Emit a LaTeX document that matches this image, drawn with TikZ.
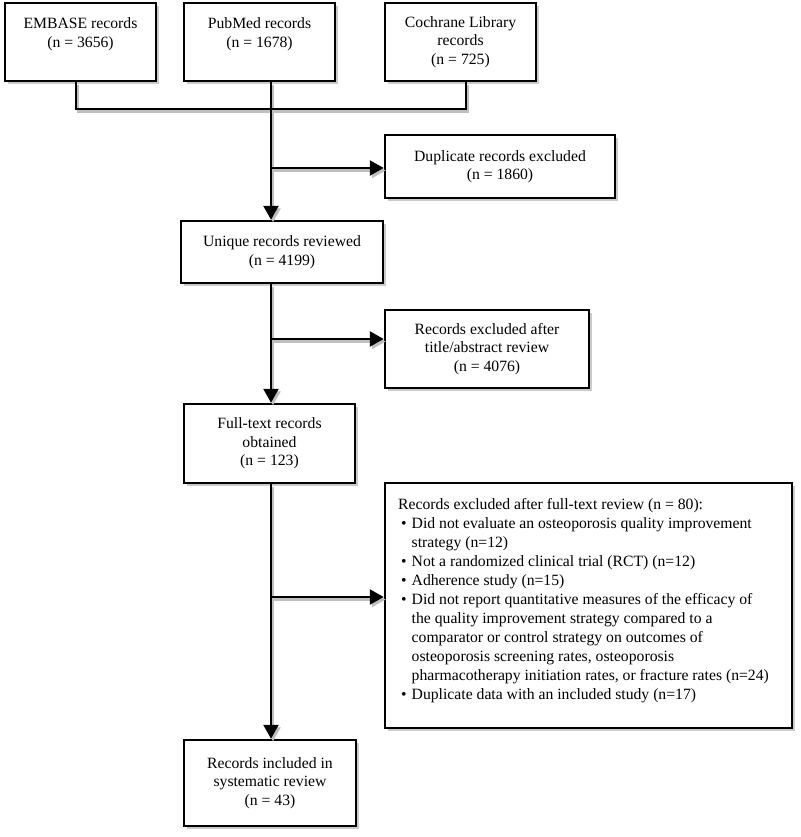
\documentclass[tikz,border=0pt]{standalone}
\usepackage{fontspec}
\setmainfont{Liberation Serif}
\usetikzlibrary{arrows.meta,shadows}
\tikzset{
  box/.style={draw=black, line width=2.5pt, fill=white, align=center, inner sep=0pt,
    drop shadow={shadow xshift=2.5pt,shadow yshift=-3pt,fill=black!40,opacity=0.5},
    font=\fontsize{15.7}{18.5}\selectfont},
  conn/.style={line width=2.3pt, draw=black},
  arr/.style={conn,-{Triangle[length=14pt,width=15pt]}},
  cshadow/.style={line width=2.8pt, draw=black!25, transform canvas={shift={(2pt,-2.5pt)}}},
  ashadow/.style={cshadow,-{Triangle[length=14pt,width=15pt]}, black!25},
  txt/.style={inner sep=0pt, font=\fontsize{15.7}{19}\selectfont, anchor=north west},
}
\begin{document}
\begin{tikzpicture}[x=1pt,y=-1pt]
\useasboundingbox (0,0) rectangle (800,837);
\fill[white] (0,0) rectangle (800,837);

% boxes
\node[box, minimum width=151pt, minimum height=78pt] (embase) at (80.5,42) {EMBASE records\\(n = 3656)\\\mbox{}};
\node[box, minimum width=151pt, minimum height=78pt] (pubmed) at (259.5,42) {PubMed records\\(n = 1678)\\\mbox{}};
\node[box, minimum width=151pt, minimum height=78pt] (cochrane) at (460.5,42) {Cochrane Library\\records\\(n = 725)};
\node[box, minimum width=230pt, minimum height=63pt] (dup) at (500,166.5) {Duplicate records excluded\\(n = 1860)};
\node[box, minimum width=202pt, minimum height=62pt] (unique) at (282,252) {Unique records reviewed\\(n = 4199)};
\node[box, minimum width=204pt, minimum height=78pt] (rex) at (487,349) {Records excluded after\\title/abstract review\\(n = 4076)};
\node[box, minimum width=171pt, minimum height=79pt] (full) at (269.5,443.5) {Full-text records\\obtained\\(n = 123)};
\node[box, minimum width=407pt, minimum height=245pt] (big) at (588.5,605.5) {};
\node[txt] (bigtext) at (398,496) {%
\begin{tabular}{@{\hspace{3pt}}c@{\hspace{5pt}}l@{}}
\multicolumn{2}{@{}l@{}}{Records excluded after full-text review (n = 80):}\\
•& Did not evaluate an osteoporosis quality improvement\\
 & strategy (n=12)\\
•& Not a randomized clinical trial (RCT) (n=12)\\
•& Adherence study (n=15)\\
•& Did not report quantitative measures of the efficacy of\\
 & the quality improvement strategy compared to a\\
 & comparator or control strategy on outcomes of\\
 & osteoporosis screening rates, osteoporosis\\
 & pharmacotherapy initiation rates, or fracture rates (n=24)\\
•& Duplicate data with an included study (n=17)
\end{tabular}};
\node[box, minimum width=172pt, minimum height=86pt] (final) at (270,783) {Records included in\\systematic review\\(n = 43)};

% helper coordinates
\coordinate (jl) at (76,109);
\coordinate (jr) at (466,109);
\coordinate (spine) at (271,0);
\coordinate (b1) at (271,168);
\coordinate (b2) at (271,339);
\coordinate (b3) at (271,597);

% connector shadows
\draw[cshadow] (embase.south -| jl) -- (jl) -- (jr) -- (cochrane.south -| jr);
\draw[ashadow] (pubmed.south -| spine) -- (unique.north -| spine);
\draw[ashadow] (b1) -- (dup.west |- b1);
\draw[ashadow] (unique.south -| spine) -- (full.north -| spine);
\draw[ashadow] (b2) -- (rex.west |- b2);
\draw[ashadow] (full.south -| spine) -- (final.north -| spine);
\draw[ashadow] (b3) -- (big.west |- b3);

% connectors
\draw[conn] (embase.south -| jl) -- (jl) -- (jr) -- (cochrane.south -| jr);
\draw[arr] (pubmed.south -| spine) -- (unique.north -| spine);
\draw[arr] (b1) -- (dup.west |- b1);
\draw[arr] (unique.south -| spine) -- (full.north -| spine);
\draw[arr] (b2) -- (rex.west |- b2);
\draw[arr] (full.south -| spine) -- (final.north -| spine);
\draw[arr] (b3) -- (big.west |- b3);
\end{tikzpicture}
\end{document}
